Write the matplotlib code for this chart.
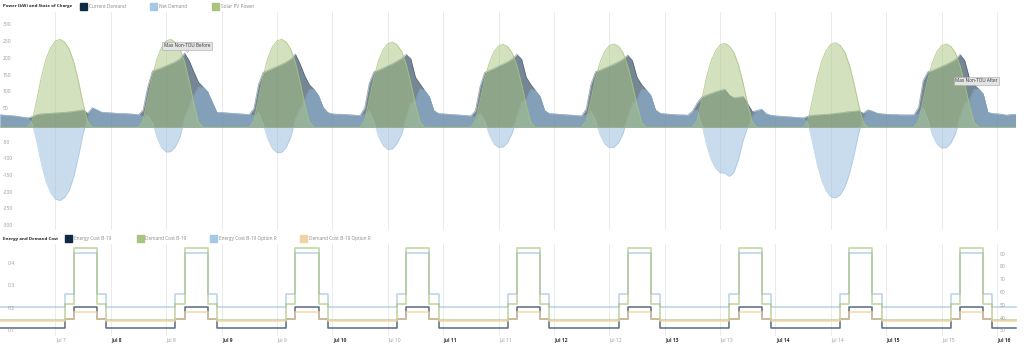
import numpy as np
import matplotlib.pyplot as plt
from matplotlib.patches import Rectangle

plt.rcParams['font.family'] = ['Open Sans', 'DejaVu Sans']

W, H = 1024, 348
PX_PER_H = 4.616          # both panels share one time scale (hours from Jul 7 00:00)

# hourly readings in kW, Jul 7 00:00 .. Jul 16 04:00
current_demand = [
    37, 36, 35, 34, 32, 30, 28, 32, 38, 40, 41, 42, 43, 44, 45, 46, 48, 50, 52, 42, 58, 52, 45, 44,            # Jul 7
    43, 42, 41, 41, 40, 39, 37, 52, 120, 168, 173, 178, 184, 190, 196, 205, 222, 199, 166, 135, 121, 106, 75, 44,  # Jul 8
    44, 43, 42, 41, 40, 39, 38, 56, 128, 164, 170, 176, 182, 188, 195, 204, 219, 190, 155, 128, 114, 95, 60, 44,   # Jul 9
    40, 39, 39, 38, 37, 36, 35, 58, 132, 166, 171, 177, 184, 190, 198, 206, 218, 205, 150, 130, 110, 92, 50, 41,   # Jul 10
    40, 39, 38, 37, 36, 35, 34, 50, 122, 164, 170, 176, 183, 189, 196, 205, 218, 204, 150, 128, 110, 92, 50, 41,   # Jul 11
    40, 39, 38, 37, 36, 35, 34, 55, 128, 166, 171, 177, 183, 189, 196, 204, 216, 200, 150, 128, 112, 95, 52, 42,   # Jul 12
    40, 39, 38, 37, 37, 36, 48, 72, 90, 96, 101, 106, 110, 114, 96, 88, 90, 92, 70, 47, 50, 54, 40, 36,           # Jul 13
    34, 33, 32, 31, 30, 29, 28, 33, 36, 37, 38, 39, 40, 42, 43, 45, 47, 48, 50, 42, 52, 48, 42, 40,               # Jul 14
    39, 38, 38, 37, 37, 37, 37, 60, 140, 166, 170, 176, 182, 188, 195, 203, 218, 200, 148, 128, 115, 100, 45, 41,  # Jul 15
    40, 39, 36, 38, 39,                                                                                          # Jul 16
]

solar_pv = [
    0, 0, 0, 0, 0, 0, 0, 21, 84, 153, 205, 239, 258, 263, 255, 234, 195, 137, 71, 16, 0, 0, 0, 0,
    0, 0, 0, 0, 0, 0, 0, 21, 84, 152, 204, 239, 258, 263, 254, 234, 195, 137, 70, 16, 0, 0, 0, 0,
    0, 0, 0, 0, 0, 0, 0, 21, 83, 153, 205, 240, 258, 263, 255, 233, 194, 136, 71, 16, 0, 0, 0, 0,
    0, 0, 0, 0, 0, 0, 0, 20, 82, 148, 199, 232, 250, 255, 247, 227, 189, 133, 69, 15, 0, 0, 0, 0,
    0, 0, 0, 0, 0, 0, 0, 20, 79, 144, 193, 226, 243, 248, 241, 221, 184, 129, 67, 15, 0, 0, 0, 0,
    0, 0, 0, 0, 0, 0, 0, 20, 80, 144, 194, 227, 244, 249, 242, 222, 184, 129, 67, 15, 0, 0, 0, 0,
    0, 0, 0, 0, 0, 0, 0, 20, 80, 146, 196, 228, 246, 251, 243, 223, 186, 131, 68, 15, 0, 0, 0, 0,
    0, 0, 0, 0, 0, 0, 0, 20, 81, 147, 197, 230, 248, 253, 245, 225, 187, 132, 68, 15, 0, 0, 0, 0,
    0, 0, 0, 0, 0, 0, 0, 20, 80, 144, 194, 227, 244, 249, 242, 222, 184, 129, 67, 15, 0, 0, 0, 0,
    0, 0, 0, 0, 0,
]

# TOU period for each hour of the day: 0 off-peak, 1 part-peak, 2 peak
tou_period = [0, 0, 0, 0, 0, 0, 0, 0, 0, 0, 0, 0, 0, 0, 1, 1, 2, 2, 2, 2, 2, 1, 1, 0]

# rates by period (off, part, peak)
energy_b19 = [0.1235, 0.1606, 0.215]
energy_b19_r = [0.2164, 0.2726, 0.455]
demand_b19 = [40.1, 52.6, 96.5]
demand_b19_r = [39.1, 41.3, 46.4]

power_ticks = [300, 250, 200, 150, 100, 50, 0, -50, -100, -150, -200, -250, -300]
energy_ticks = [0.4, 0.3, 0.2, 0.1]
demand_ticks = [90, 80, 70, 60, 50, 40, 30]

C_CUR = '#0d2b45'
C_NET = '#92bbdc'
C_SOL = '#a9c47f'
C_ORG = '#f2d3a0'
GRID = '#e8e8e8'

hours = np.arange(len(current_demand))
current = np.array(current_demand, dtype=float)
solar = np.array(solar_pv, dtype=float)
net = current - solar
periods = np.array(tou_period * 10)[:len(hours)]


def fx(px):
    return px / W


def fy(py):
    return 1 - py / H


fig = plt.figure(figsize=(W / 100, H / 100), dpi=100)
x_max = W / PX_PER_H

# ---- power panel ----
top_px, bot_px, zero_px, px_per_kw = 12, 230, 127.3, 0.3345
ax1 = fig.add_axes([0, fy(bot_px), 1, (bot_px - top_px) / H])
ax1.set_xlim(0, x_max)
ax1.set_ylim(-(bot_px - zero_px) / px_per_kw, (zero_px - top_px) / px_per_kw)
ax1.set_axis_off()
for k in range(1, 19):
    ax1.axvline(k * 12, color=GRID, lw=0.6, zorder=0)

ax1.fill_between(hours, current, 0, color=C_CUR, alpha=0.57, lw=0, zorder=1)
ax1.plot(hours, current, color=C_CUR, alpha=0.45, lw=0.5, zorder=1)
ax1.fill_between(hours, net, 0, color=C_NET, alpha=0.5, lw=0, zorder=2)
ax1.plot(hours, net, color=C_NET, alpha=0.6, lw=0.5, zorder=2)
ax1.fill_between(hours, solar, 0, color=C_SOL, alpha=0.5, lw=0, zorder=3)
ax1.plot(hours, solar, color=C_SOL, alpha=0.8, lw=0.7, zorder=3)

for v in power_ticks:
    ax1.text(3 / PX_PER_H, v + 2 / px_per_kw, str(v), fontsize=3.6, color='#999999',
             ha='left', va='center', zorder=5)


def kw_at(py):
    return (zero_px - py) / px_per_kw


ax1.text(187 / PX_PER_H, kw_at(45.8), 'Max Non-TOU Before', fontsize=3.3, color='#333333',
         ha='center', va='center', zorder=6,
         bbox=dict(boxstyle='square,pad=0.35', fc='#e4e4e4', ec='#a8a8a8', lw=0.4))
ax1.plot(187 / PX_PER_H, kw_at(51.3), marker='v', ms=2.2, color='#e4e4e4', mec='#a8a8a8',
         mew=0.3, zorder=6)
ax1.text(976.5 / PX_PER_H, kw_at(80.7), 'Max Non-TOU After', fontsize=3.3, color='#333333',
         ha='center', va='center', zorder=6,
         bbox=dict(boxstyle='square,pad=0.35', fc='#e4e4e4', ec='#a8a8a8', lw=0.4))

# ---- cost panel ----
ctop, cbot = 244, 336
ax2 = fig.add_axes([0, fy(cbot), 1, (cbot - ctop) / H])
ax2.set_xlim(0, x_max)
e_ref, e_scale = 333, 226.0     # 0.1 sits at e_ref px, px per $/kWh
d_ref, d_scale = 333, 1.283     # 30 sits at d_ref px
ax2.set_ylim(0.1 - (cbot - e_ref) / e_scale, 0.1 + (e_ref - ctop) / e_scale)
ax2.set_axis_off()
ax3 = ax2.twinx()
ax3.set_ylim(30 - (cbot - d_ref) / d_scale, 30 + (d_ref - ctop) / d_scale)
ax3.set_axis_off()
for k in range(1, 19):
    ax2.axvline(k * 12, color=GRID, lw=0.6, zorder=0)

ax2.plot(hours, np.take(energy_b19, periods), drawstyle='steps-post', color='#1d3a55',
         alpha=0.75, lw=1.1, zorder=2)
ax3.plot(hours, np.take(demand_b19, periods), drawstyle='steps-post', color=C_SOL,
         alpha=0.65, lw=1.3, zorder=2)
ax2.plot(hours, np.take(energy_b19_r, periods), drawstyle='steps-post', color='#a6c8e3',
         alpha=0.75, lw=1.2, zorder=3)
ax3.plot(hours, np.take(demand_b19_r, periods), drawstyle='steps-post', color=C_ORG,
         alpha=0.8, lw=1.2, zorder=4)

for v in energy_ticks:
    ax2.text(7.3 / PX_PER_H, v + 2 / e_scale, f'{v:.1f}', fontsize=3.6, color='#999999',
             ha='left', va='center', zorder=5)
for v in demand_ticks:
    ax3.text(1000 / PX_PER_H, v + 2 / d_scale, str(v), fontsize=3.6, color='#999999',
             ha='left', va='center', zorder=5)

# date labels along the bottom
for k in range(1, 19):
    day = 7 + k // 2
    bold = k % 2 == 0
    fig.text(fx(k * 12 * PX_PER_H + 0.5), fy(340), f'Jul {day}', fontsize=3.6,
             ha='left', va='center', weight='bold' if bold else 'normal',
             color='#333333' if bold else '#999999')

# ---- titles and legends ----
def legend_row(py, title, items):
    fig.text(fx(3), fy(py), title, fontsize=3.2, weight='bold', color='#222222',
             ha='left', va='center')
    for sx, color, label in items:
        fig.add_artist(Rectangle((fx(sx), fy(py + 3.6)), 7.3 / W, 7.3 / H, color=color,
                                 transform=fig.transFigure))
        fig.text(fx(sx + 8.7), fy(py), label, fontsize=3.4, color='#8a8a8a',
                 ha='left', va='center')


legend_row(6.3, 'Power (kW) and State of Charge', [
    (80, C_CUR, 'Current Demand'),
    (150, '#a6c8e3', 'Net Demand'),
    (212, C_SOL, 'Solar PV Power'),
])
legend_row(238.7, 'Energy and Demand Cost', [
    (65, C_CUR, 'Energy Cost B-19'),
    (136.7, C_SOL, 'Demand Cost B-19'),
    (210, '#a6c8e3', 'Energy Cost B-19 Option R'),
    (300, C_ORG, 'Demand Cost B-19 Option R'),
])

fig.savefig('out.png', dpi=100)
